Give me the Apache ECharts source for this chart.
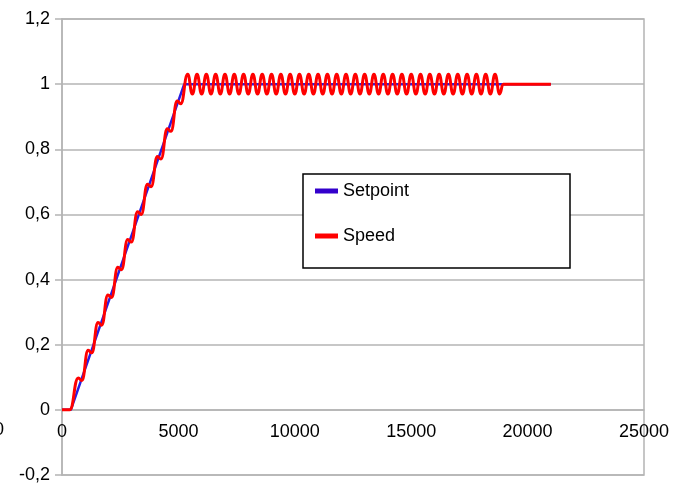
<!DOCTYPE html>
<html>
<head>
<meta charset="utf-8">
<script src="https://cdn.jsdelivr.net/npm/echarts@6/dist/echarts.min.js"></script>
<style>
  html, body { margin: 0; padding: 0; background: #fff; }
  #chart { width: 680px; height: 484px; }
</style>
</head>
<body>
<div id="chart"></div>
<script>
// setpoint: flat, ramp, flat
var setpointX = [0, 380, 5250, 21000]
var setpointY = [0, 0, 1, 1]

// speed: wobbly ramp, then oscillation round 1, then settled
var speedX = [
  0, 330, 700, 850, 1125, 1275, 1550, 1700, 1975, 2125, 2400, 2550,
  2825, 2975, 3250, 3400, 3675, 3825, 4100, 4250, 4525, 4675, 4950, 5100,
  5400, 5600, 5800, 6000, 6200, 6400, 6600, 6800, 7000, 7200, 7400, 7600,
  7800, 8000, 8200, 8400, 8600, 8800, 9000, 9200, 9400, 9600, 9800, 10000,
  10200, 10400, 10600, 10800, 11000, 11200, 11400, 11600, 11800, 12000, 12200, 12400,
  12600, 12800, 13000, 13200, 13400, 13600, 13800, 14000, 14200, 14400, 14600, 14800,
  15000, 15200, 15400, 15600, 15800, 16000, 16200, 16400, 16600, 16800, 17000, 17200,
  17400, 17600, 17800, 18000, 18200, 18400, 18600, 18800, 18950, 21000
]
var speedY = [
  0, 0, 0.098, 0.09, 0.183, 0.175, 0.268, 0.26, 0.353, 0.345, 0.438, 0.43,
  0.523, 0.515, 0.608, 0.6, 0.693, 0.685, 0.778, 0.77, 0.863, 0.855, 0.948, 0.94,
  1.03, 0.97, 1.03, 0.97, 1.03, 0.97, 1.03, 0.97, 1.03, 0.97, 1.03, 0.97,
  1.03, 0.97, 1.03, 0.97, 1.03, 0.97, 1.03, 0.97, 1.03, 0.97, 1.03, 0.97,
  1.03, 0.97, 1.03, 0.97, 1.03, 0.97, 1.03, 0.97, 1.03, 0.97, 1.03, 0.97,
  1.03, 0.97, 1.03, 0.97, 1.03, 0.97, 1.03, 0.97, 1.03, 0.97, 1.03, 0.97,
  1.03, 0.97, 1.03, 0.97, 1.03, 0.97, 1.03, 0.97, 1.03, 0.97, 1.03, 0.97,
  1.03, 0.97, 1.03, 0.97, 1.03, 0.97, 1.03, 0.97, 1, 1
]

var yTicks = { min: -0.2, max: 1.2, step: 0.2 }
var xTicks = { min: 0, max: 25000, step: 5000 }

function pairs (xs, ys) {
  return xs.map(function (x, i) { return [x, ys[i]] })
}

var gridGray = '#b4b4b4'
var fontFam = '"Liberation Sans", Arial, sans-serif'
var plotTop = 19
var plotBottom = 475
// x axis sits on y = 0, one step above the bottom
var zeroOffset = (plotBottom - plotTop) * (0 - yTicks.min) / (yTicks.max - yTicks.min)

var myChart = echarts.init(document.getElementById('chart'))
myChart.setOption({
  animation: false,
  textStyle: { fontFamily: fontFam },
  grid: {
    left: 62,
    right: 36,
    top: plotTop,
    bottom: 484 - plotBottom,
    outerBoundsMode: 'none',
    containLabel: false,
    show: true,
    borderColor: gridGray,
    borderWidth: 1.5
  },
  xAxis: {
    type: 'value',
    min: xTicks.min,
    max: xTicks.max,
    interval: xTicks.step,
    offset: -zeroOffset,
    axisLine: { onZero: false, lineStyle: { color: gridGray, width: 1.5 } },
    axisTick: { show: false },
    splitLine: { show: false },
    axisLabel: {
      color: '#000',
      fontSize: 18,
      margin: 13,
      fontFamily: fontFam,
      formatter: function (v) { return String(v) }
    }
  },
  yAxis: {
    type: 'value',
    min: yTicks.min,
    max: yTicks.max,
    interval: yTicks.step,
    axisLine: { show: true, onZero: false, lineStyle: { color: gridGray, width: 1.5 } },
    axisTick: { show: true, length: 7, lineStyle: { color: gridGray, width: 1.5 } },
    splitLine: { show: true, lineStyle: { color: gridGray, width: 1.5 } },
    axisLabel: {
      color: '#000',
      fontSize: 18,
      margin: 12,
      fontFamily: fontFam,
      formatter: function (v) {
        return String(+v.toFixed(1)).replace('.', ',')
      }
    }
  },
  legend: {
    orient: 'vertical',
    left: 315,
    top: 181,
    padding: 0,
    itemGap: 25,
    itemWidth: 23,
    itemHeight: 5,
    icon: 'rect',
    z: 20,
    textStyle: { color: '#000', fontSize: 18, lineHeight: 20, fontFamily: fontFam },
    data: ['Setpoint', 'Speed']
  },
  graphic: [
    {
      type: 'rect',
      z: 10,
      shape: { x: 303, y: 174, width: 267, height: 94 },
      style: { fill: '#fff', stroke: '#000', lineWidth: 1.5 }
    },
    {
      type: 'text',
      z: 10,
      left: -6,
      top: 421,
      style: { text: '0', fill: '#000', font: '18px ' + fontFam }
    }
  ],
  series: [
    {
      name: 'Setpoint',
      type: 'line',
      showSymbol: false,
      color: '#3300cc',
      lineStyle: { width: 2.5, color: '#2a1ee0' },
      data: pairs(setpointX, setpointY),
      z: 2
    },
    {
      name: 'Speed',
      type: 'line',
      showSymbol: false,
      smooth: 0.5,
      smoothMonotone: 'x',
      color: '#ff0000',
      lineStyle: { width: 3, color: '#ff0000' },
      data: pairs(speedX, speedY),
      z: 3
    }
  ]
})
</script>
</body>
</html>
